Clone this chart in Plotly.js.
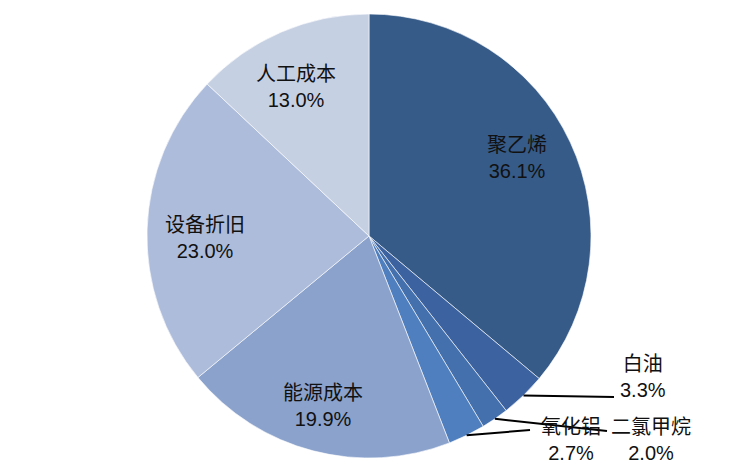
<!DOCTYPE html>
<html><head><meta charset="utf-8">
<script src="https://cdn.plot.ly/plotly-3.0.1.min.js"></script>
<style>body{margin:0;background:#fff}</style>
</head><body>
<div id="chart" style="width:736px;height:471px"></div>
<script>
var labels = ["聚乙烯", "白油", "二氯甲烷", "氧化铝", "能源成本", "设备折旧", "人工成本"];
var values = [36.1, 3.3, 2.0, 2.7, 19.9, 23.0, 13.0];
var colors = ["#365b88", "#3c62a0", "#4570ae", "#4f7fbf", "#8aa2cc", "#adbcdb", "#c6d0e3"];

var W = 736, H = 471;
var M = {l: 147, r: 145, t: 14, b: 13};
var R = 222, CX = M.l + R, CY = M.t + R;
var FONT = "Liberation Sans, Arial, Noto Sans CJK SC, sans-serif";

function px2paper(x, y) { return [(x - M.l) / (W - M.l - M.r), (H - M.b - y) / (H - M.t - M.b)]; }

var total = values.reduce(function(a, b){return a + b;}, 0);
var annotations = [], shapes = [];
// external label anchors for small slices (layout positions)
var outside = {"白油": [643, 377, 614, 397], "二氯甲烷": [651, 440, 607, 431], "氧化铝": [571, 440, 530, 430]};
// small layout nudges for inside labels
var nudge = {"聚乙烯": [-5, -7], "人工成本": [-6, 6], "设备折旧": [5, 7], "能源成本": [-4, 7]};
var cum = 0;
values.forEach(function(v, i) {
  var mid = (cum + v / 2) / total * 2 * Math.PI;
  cum += v;
  var txt = labels[i] + "<br>" + v.toFixed(1) + "%";
  if (outside[labels[i]]) {
    var o = outside[labels[i]];
    var ex = CX + R * Math.sin(mid), ey = CY - R * Math.cos(mid);
    var p0 = px2paper(ex, ey), p1 = px2paper(o[2], o[3]);
    shapes.push({type: "line", xref: "paper", yref: "paper", x0: p0[0], y0: p0[1], x1: p1[0], y1: p1[1],
      line: {color: "#000", width: 2}});
    var pa = px2paper(o[0], o[1]);
    annotations.push({xref: "paper", yref: "paper", x: pa[0], y: pa[1], text: txt, showarrow: false,
      font: {family: FONT, size: 20, color: "#111"}, xanchor: "center", yanchor: "middle"});
  } else {
    var r = 0.76 * R;
    var n = nudge[labels[i]] || [0, 0];
    var x = CX + r * Math.sin(mid) + n[0], y = CY - r * Math.cos(mid) + n[1];
    var p = px2paper(x, y);
    annotations.push({xref: "paper", yref: "paper", x: p[0], y: p[1], text: txt, showarrow: false,
      font: {family: FONT, size: 20, color: "#111"}, xanchor: "center", yanchor: "middle"});
  }
});

var data = [{
  type: "pie", labels: labels, values: values, sort: false, direction: "clockwise", rotation: 0,
  marker: {colors: colors, line: {color: "#ffffff", width: 0.6}},
  textinfo: "none", hoverinfo: "label+percent", showlegend: false
}];
var layout = {
  width: W, height: H, margin: M, paper_bgcolor: "#fff", plot_bgcolor: "#fff",
  showlegend: false, annotations: annotations, shapes: shapes
};
Plotly.newPlot("chart", data, layout, {displayModeBar: false, staticPlot: true});
</script>
</body></html>
